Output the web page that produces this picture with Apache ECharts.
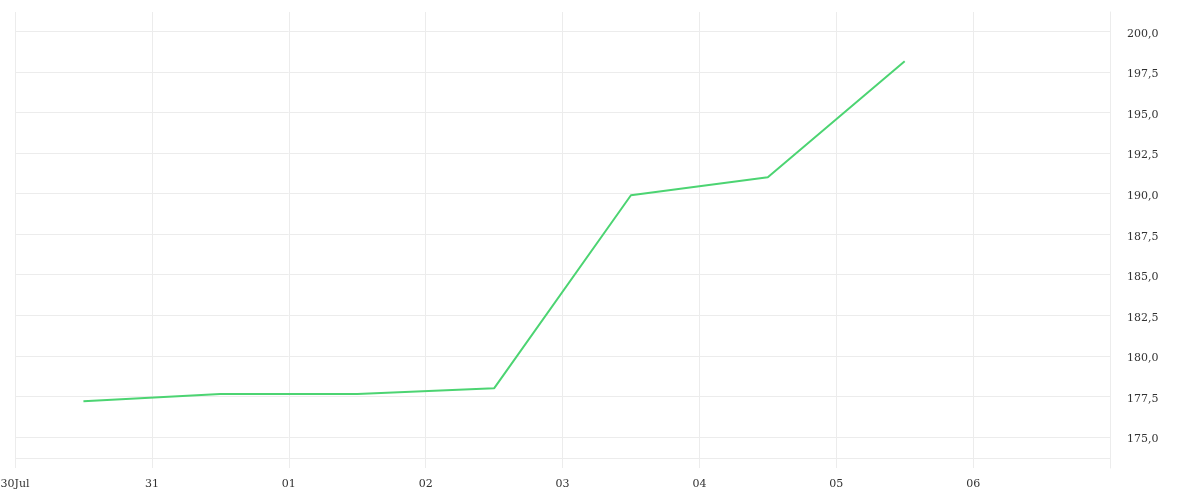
<!DOCTYPE html>
<html lang="en" style="height: 100%">
<head>
    <meta charset="utf-8">
    <title>ECharts</title>
    <script src="https://cdn.jsdelivr.net/npm/echarts@6.0.0/dist/echarts.min.js"></script>
    <style>
        html, body { margin: 0; padding: 0; background: #fff; }
    </style>
</head>
<body>
    <div id="chart" style="width:1200px;height:500px"></div>
    <script type="text/javascript">
        // data (one point per day, at noon)
        var days = ['2024-07-30', '2024-07-31', '2024-08-01', '2024-08-02', '2024-08-03', '2024-08-04', '2024-08-05'];
        var values = [177.2, 177.65, 177.65, 178.0, 189.9, 191.0, 198.15];
        var yLabels = [175, 177.5, 180, 182.5, 185, 187.5, 190, 192.5, 195, 197.5, 200];
        var yLines = [173.7].concat(yLabels);

        function parseDay(s, h) {
            var p = s.split('-');
            return new Date(+p[0], +p[1] - 1, +p[2], h || 0).getTime();
        }

        var seriesData = days.map(function (d, i) {
            return [parseDay(d, 12), values[i]];
        });
        var xMin = parseDay('2024-07-30');
        var xMax = parseDay('2024-08-07');
        var DAY = 24 * 3600 * 1000;
        var fontName = 'DejaVu Serif';

        var myChart = echarts.init(document.getElementById('chart'), null, { renderer: 'canvas' });
        var option = {
            animation: false,
            grid: { left: 15, right: 90, top: 12, bottom: 32, outerBoundsMode: 'none', containLabel: false },
            xAxis: {
                type: 'time',
                min: xMin,
                max: xMax,
                minInterval: DAY,
                maxInterval: DAY,
                axisLine: { show: false },
                axisTick: { show: false },
                splitLine: { show: true, lineStyle: { color: '#ececec', width: 1 } },
                axisLabel: {
                    color: '#333',
                    fontFamily: fontName,
                    fontSize: 11,
                    margin: 11,
                    showMaxLabel: false,
                    hideOverlap: false,
                    formatter: function (v) {
                        var d = new Date(v);
                        var dd = ('0' + d.getDate()).slice(-2);
                        if (v === xMin) return dd + 'Jul';
                        if (v >= xMax) return '';
                        return dd;
                    }
                }
            },
            yAxis: {
                type: 'value',
                position: 'right',
                min: 173.09,
                max: 201.19,
                axisLine: { show: true, lineStyle: { color: '#ececec' } },
                axisTick: { show: false, customValues: yLines },
                splitLine: { show: true, lineStyle: { color: '#ececec', width: 1 } },
                axisLabel: {
                    customValues: yLabels,
                    color: '#333',
                    fontFamily: fontName,
                    fontSize: 11,
                    margin: 17,
                    verticalAlign: 'top',
                    lineHeight: 5,
                    formatter: function (v) {
                        return v.toFixed(1).replace('.', ',');
                    }
                }
            },
            series: [
                {
                    type: 'line',
                    data: seriesData,
                    showSymbol: false,
                    lineStyle: { color: '#4cd472', width: 2 },
                    itemStyle: { color: '#4cd472' }
                }
            ]
        };
        myChart.setOption(option);
    </script>
</body>
</html>
